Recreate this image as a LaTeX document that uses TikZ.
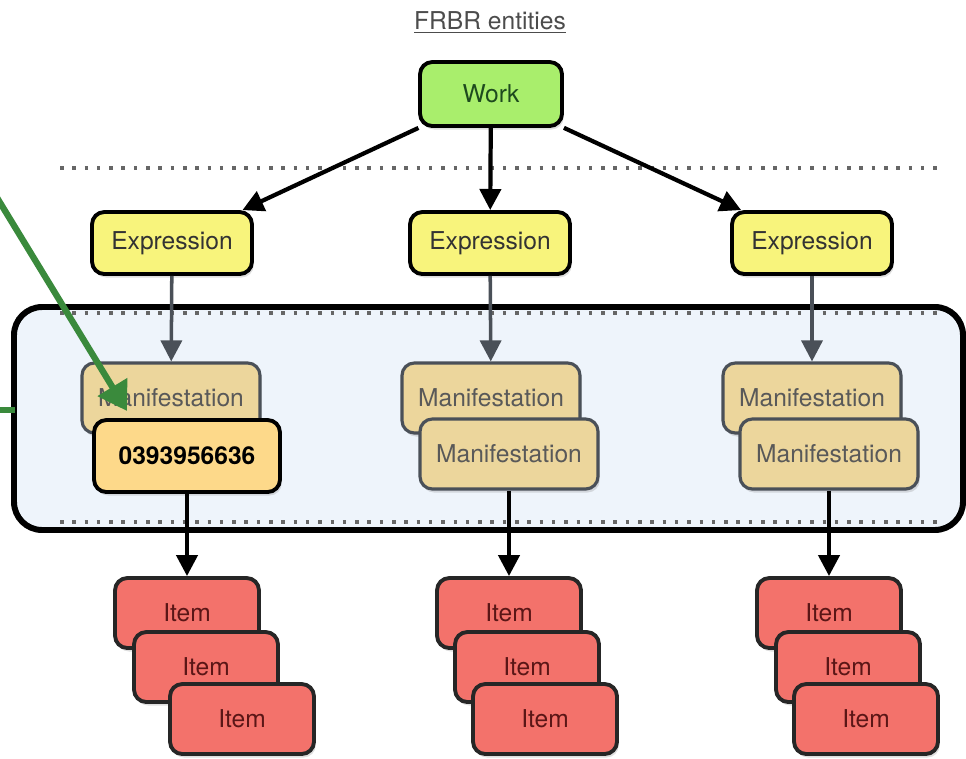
\documentclass[tikz,border=0pt]{standalone}
\usepackage{fontspec}
\setmainfont{TeX Gyre Heros}
\usetikzlibrary{arrows.meta,shadows}
\definecolor{workgreen}{HTML}{A9EE6C}
\definecolor{worktext}{HTML}{1E4A1E}
\definecolor{expyellow}{HTML}{F8F47C}
\definecolor{mantan}{HTML}{ECD69C}
\definecolor{isbnfill}{HTML}{FDD98A}
\definecolor{itemred}{HTML}{F3726B}
\definecolor{itemtext}{HTML}{5A1616}
\definecolor{bluebg}{HTML}{EEF4FB}
\definecolor{mangray}{HTML}{4A5058}
\definecolor{arrowgreen}{HTML}{3A8A3C}

\begin{document}
\begin{tikzpicture}[x=0.02cm, y=-0.02cm,
    >={Triangle[width=12pt,length=12pt]},
    box/.style={draw, rounded corners=7pt, line width=2.2pt,
      font=\fontsize{14}{16}\selectfont,
      drop shadow={opacity=0.25, shadow xshift=1pt, shadow yshift=-2pt}},
    workbox/.style={box, fill=workgreen, text=worktext, minimum width=2.84cm, minimum height=1.28cm},
    expbox/.style={box, fill=expyellow, text=black!80, minimum width=3.2cm, minimum height=1.24cm},
    manbox/.style={box, draw=mangray, line width=1.8pt, fill=mantan, text=black!65, minimum width=3.56cm, minimum height=1.4cm},
    isbnbox/.style={box, fill=isbnfill, font=\fontsize{14}{16}\selectfont\bfseries, minimum width=3.72cm, minimum height=1.44cm},
    itembox/.style={box, draw=black!85, fill=itemred, text=itemtext, minimum width=2.88cm, minimum height=1.4cm},
    dotline/.style={draw=black!60, line width=2pt, dash pattern=on 2pt off 5pt},
    link/.style={->, line width=2.4pt},
    graylink/.style={->, draw=mangray, line width=2pt},
    greenlink/.style={draw=arrowgreen, line width=3.6pt}
  ]
    \useasboundingbox (0,0) rectangle (966,758);

    \draw[line width=3.4pt, rounded corners=16pt, fill=bluebg] (14,307) rectangle (963,530);
    \draw[dotline] (60,168) -- (945,168);
    \draw[dotline] (60,313) -- (945,313);
    \draw[dotline] (60,522) -- (945,522);

    \node[font=\fontsize{14}{16}\selectfont, text=black!70] (title) at (490,22) {\underline{FRBR entities}};
    \node[workbox] (W) at (491,94) {Work};

    \node[expbox] (E1) at (172,243) {Expression};
    \node[expbox] (E2) at (490,243) {Expression};
    \node[expbox] (E3) at (812,243) {Expression};

    \node[manbox] (M1) at (171,398) {Manifestation};
    \node[isbnbox] (M1f) at (187,456) {0393956636};
    \node[manbox] (M2) at (491,398) {Manifestation};
    \node[manbox] (M2f) at (509,454) {Manifestation};
    \node[manbox] (M3) at (812,398) {Manifestation};
    \node[manbox] (M3f) at (829,454) {Manifestation};

    \node[itembox] (I11) at (187,613) {Item};
    \node[itembox] (I12) at (206,667) {Item};
    \node[itembox] (I13) at (242,719) {Item};
    \node[itembox] (I21) at (509,613) {Item};
    \node[itembox] (I22) at (527,667) {Item};
    \node[itembox] (I23) at (545,719) {Item};
    \node[itembox] (I31) at (829,613) {Item};
    \node[itembox] (I32) at (848,667) {Item};
    \node[itembox] (I33) at (866,719) {Item};

    \draw[link] (W) -- (E1);
    \draw[link] (W) -- (E2);
    \draw[link] (W) -- (E3);

    \draw[graylink] (E1) -- (M1);
    \draw[graylink] (E2) -- (M2);
    \draw[graylink] (E3) -- (M3);

    \draw[link] (M1f) -- (I11);
    \draw[link] (M2f) -- (I21);
    \draw[link] (M3f) -- (I31);

    \coordinate (gs) at (-4,196);
    \coordinate (gt) at (127,411);
    \coordinate (g1) at (0,410);
    \coordinate (g2) at (15,410);
    \draw[greenlink, -{Triangle[width=19pt,length=16pt]}] (gs) -- (gt);
    \draw[greenlink] (g1) -- (g2);
\end{tikzpicture}
\end{document}
